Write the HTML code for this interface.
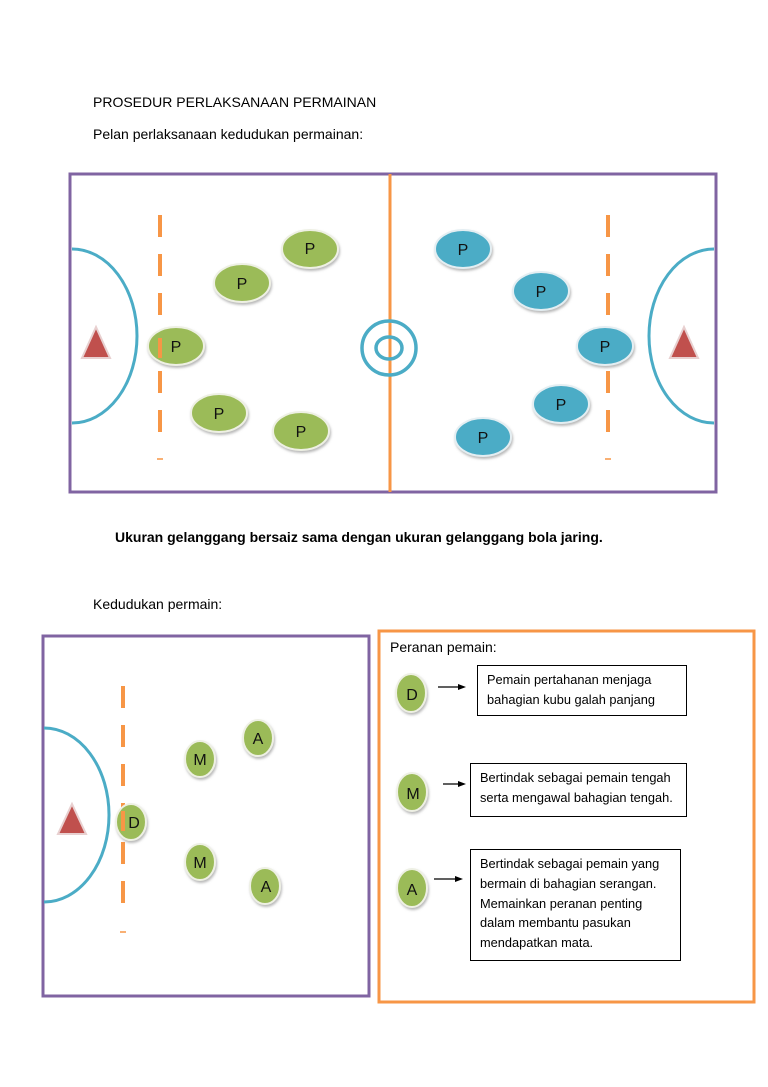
<!DOCTYPE html>
<html><head><meta charset="utf-8"><style>
body{margin:0;background:#fff;}
svg{display:block;font-family:"Liberation Sans",sans-serif;}
</style></head><body>
<svg width="768" height="1087" viewBox="0 0 768 1087">
<defs>
<filter id="sh" x="-30%" y="-30%" width="160%" height="170%"><feDropShadow dx="1" dy="2" stdDeviation="1.2" flood-color="#888" flood-opacity="0.6"/></filter>
</defs>
<text x="93" y="107" font-size="14" fill="#000">PROSEDUR PERLAKSANAAN PERMAINAN</text>
<text x="93" y="139" font-size="14" fill="#000">Pelan perlaksanaan kedudukan permainan:</text>

<!-- top court -->
<rect x="70" y="174" width="646" height="318" fill="none" stroke="#8064a2" stroke-width="3"/>
<line x1="390" y1="174" x2="390" y2="492" stroke="#f79646" stroke-width="3"/>
<circle cx="389" cy="348" r="27" fill="none" stroke="#4bacc6" stroke-width="3.5"/>
<ellipse cx="389" cy="348" rx="13" ry="11" fill="none" stroke="#4bacc6" stroke-width="3.5"/>
<path d="M72 249 A65 87 0 0 1 72 423" fill="none" stroke="#4bacc6" stroke-width="3"/>
<path d="M714 249 A65 87 0 0 0 714 423" fill="none" stroke="#4bacc6" stroke-width="3"/>
<polygon points="96,327 110,358 82,358" fill="#c0504d" stroke="#e8d0d0" stroke-width="2"/>
<polygon points="684,327 698,358 670,358" fill="#c0504d" stroke="#e8d0d0" stroke-width="2"/>
<line x1="160" y1="215" x2="160" y2="442" stroke="#f79646" stroke-width="4" stroke-dasharray="22,17"/>
<line x1="157" y1="459" x2="163" y2="459" stroke="#f79646" stroke-width="1.5"/>
<line x1="608" y1="215" x2="608" y2="442" stroke="#f79646" stroke-width="4" stroke-dasharray="22,17"/>
<line x1="605" y1="459" x2="611" y2="459" stroke="#f79646" stroke-width="1.5"/>
<g fill="#9bbb59" stroke="#eef0e4" stroke-width="2" filter="url(#sh)">
<ellipse cx="310" cy="249" rx="28" ry="19"/>
<ellipse cx="242" cy="283" rx="28" ry="19"/>
<ellipse cx="176" cy="346" rx="28" ry="19"/>
<ellipse cx="219" cy="413" rx="28" ry="19"/>
<ellipse cx="301" cy="431" rx="28" ry="19"/>
</g>
<rect x="158" y="338" width="4" height="20" fill="#f79646"/>
<g fill="#4bacc6" stroke="#e4eef2" stroke-width="2" filter="url(#sh)">
<ellipse cx="463" cy="249" rx="28" ry="19"/>
<ellipse cx="541" cy="291" rx="28" ry="19"/>
<ellipse cx="605" cy="346" rx="28" ry="19"/>
<ellipse cx="561" cy="404" rx="28" ry="19"/>
<ellipse cx="483" cy="437" rx="28" ry="19"/>
</g>
<g font-size="16" fill="#111" text-anchor="middle">
<text x="310" y="254">P</text><text x="242" y="289">P</text><text x="176" y="352">P</text><text x="219" y="419">P</text><text x="301" y="437">P</text>
<text x="463" y="255">P</text><text x="541" y="297">P</text><text x="605" y="352">P</text><text x="561" y="410">P</text><text x="483" y="443">P</text>
</g>

<text x="115" y="542" font-size="14" font-weight="bold" fill="#000">Ukuran gelanggang bersaiz sama dengan ukuran gelanggang bola jaring.</text>
<text x="93" y="609" font-size="14" fill="#000">Kedudukan permain:</text>

<!-- bottom left -->
<rect x="43" y="636" width="326" height="360" fill="none" stroke="#8064a2" stroke-width="3"/>
<path d="M44 728 A65 87 0 0 1 44 902" fill="none" stroke="#4bacc6" stroke-width="3"/>
<polygon points="72,804 86,834 58,834" fill="#c0504d" stroke="#e8d0d0" stroke-width="2"/>
<line x1="123" y1="686" x2="123" y2="903" stroke="#f79646" stroke-width="4" stroke-dasharray="22,17"/>
<line x1="120" y1="932" x2="126" y2="932" stroke="#f79646" stroke-width="1.5"/>
<g fill="#9bbb59" stroke="#eef0e4" stroke-width="2" filter="url(#sh)">
<ellipse cx="200" cy="759" rx="15" ry="18"/>
<ellipse cx="258" cy="738" rx="15" ry="18"/>
<ellipse cx="131" cy="822" rx="15" ry="18"/>
<ellipse cx="200" cy="862" rx="15" ry="18"/>
<ellipse cx="265" cy="886" rx="15" ry="18"/>
<ellipse cx="411" cy="693" rx="15" ry="19"/>
<ellipse cx="412" cy="792" rx="15" ry="19"/>
<ellipse cx="412" cy="888" rx="15" ry="19"/>
</g>
<rect x="121" y="811" width="4" height="20" fill="#f79646"/>
<g font-size="16" fill="#111" text-anchor="middle">
<text x="200" y="765">M</text><text x="258" y="744">A</text><text x="134" y="828">D</text><text x="200" y="868">M</text><text x="266" y="892">A</text>
<text x="412" y="700">D</text><text x="413" y="799">M</text><text x="412" y="895">A</text>
</g>

<!-- right box -->
<rect x="379" y="631" width="375" height="371" fill="none" stroke="#f79646" stroke-width="3"/>
<text x="390" y="652" font-size="14" fill="#000">Peranan pemain:</text>
<g stroke="#000" stroke-width="1.2">
<line x1="438" y1="687" x2="460" y2="687"/><line x1="443" y1="784" x2="460" y2="784"/><line x1="434" y1="879" x2="457" y2="879"/>
</g>
<g fill="#000">
<polygon points="466,687 458,684 458,690"/><polygon points="466,784 458,781 458,787"/><polygon points="463,879 455,876 455,882"/>
</g>
<g fill="none" stroke="#000" stroke-width="1">
<rect x="477.5" y="665.5" width="209" height="50"/>
<rect x="470.5" y="763.5" width="216" height="53"/>
<rect x="470.5" y="849.5" width="210" height="111"/>
</g>
<g font-size="12.8" fill="#000">
<text x="487" y="684">Pemain pertahanan menjaga</text>
<text x="487" y="704">bahagian kubu galah panjang</text>
<text x="480" y="782">Bertindak sebagai pemain tengah</text>
<text x="480" y="802">serta mengawal bahagian tengah.</text>
<text x="480" y="868">Bertindak sebagai pemain yang</text>
<text x="480" y="888">bermain di bahagian serangan.</text>
<text x="480" y="908">Memainkan peranan penting</text>
<text x="480" y="927">dalam membantu pasukan</text>
<text x="480" y="947">mendapatkan mata.</text>
</g>
</svg>
</body></html>
